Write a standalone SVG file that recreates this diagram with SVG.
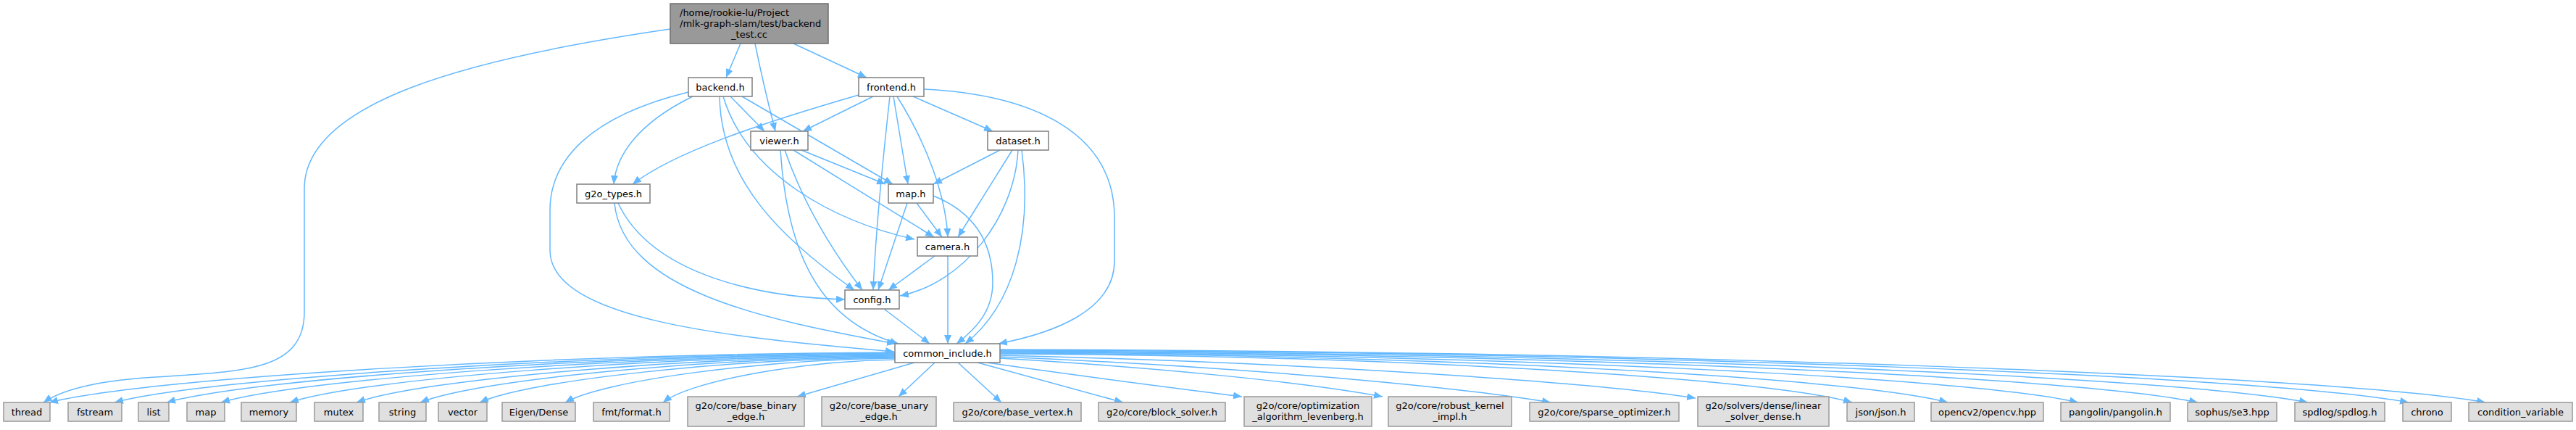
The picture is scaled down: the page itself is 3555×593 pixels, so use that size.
<svg xmlns="http://www.w3.org/2000/svg" width="3555" height="593" viewBox="0 0 3555 593">
<style>
.e{fill:none;stroke:#63b8ff;stroke-width:1.5}
.n rect{fill:#ffffff;stroke:#7f7f7f;stroke-width:1.5}
.x rect{fill:#e0e0e0;stroke:#999999;stroke-width:1.5}
.r rect{fill:#999999;stroke:#6e6e6e;stroke-width:1.5}
text{font-family:"DejaVu Sans","Liberation Sans",sans-serif;font-size:13px;text-anchor:middle;fill:#000}
text.l{text-anchor:start}
</style>
<defs>
<marker id="a" markerUnits="userSpaceOnUse" markerWidth="12" markerHeight="10" viewBox="0 0 12 10" refX="12" refY="5" orient="auto">
<path d="M0,0 L12,5 L0,10 z" fill="#63b8ff"/>
</marker>
</defs>
<rect width="3555" height="593" fill="#ffffff"/>
<g id="edges" class="edges">
<path class="e" marker-end="url(#a)" d="M1022,60 L1002,107"/>
<path class="e" marker-end="url(#a)" d="M1042,60 C1050,100 1062,150 1070,181"/>
<path class="e" marker-end="url(#a)" d="M1095,60 L1196,107"/>
<path class="e" marker-end="url(#a)" d="M925,40 C650,80 420,140 420,260 L420,430 C420,515 330,512 200,521 C120,527 82,540 60,555"/>
<path class="e" marker-end="url(#a)" d="M950,127 C815,160 759,220 759,290 L759,345 C759,440 1000,465 1234,485"/>
<path class="e" marker-end="url(#a)" d="M956,133 C880,170 850,215 847,254"/>
<path class="e" marker-end="url(#a)" d="M1008,133 L1055,181"/>
<path class="e" marker-end="url(#a)" d="M1024,133 L1232,254"/>
<path class="e" marker-end="url(#a)" d="M993,133 C995,250 1080,330 1179,400"/>
<path class="e" marker-end="url(#a)" d="M998,133 C1030,240 1150,305 1262,330"/>
<path class="e" marker-end="url(#a)" d="M1077,207 C1085,330 1120,440 1240,474"/>
<path class="e" marker-end="url(#a)" d="M1083,207 C1105,270 1140,335 1190,400"/>
<path class="e" marker-end="url(#a)" d="M1095,207 L1289,327"/>
<path class="e" marker-end="url(#a)" d="M1106,207 L1222,254"/>
<path class="e" marker-end="url(#a)" d="M1185,131 C1050,170 930,210 873,254"/>
<path class="e" marker-end="url(#a)" d="M1205,133 L1108,181"/>
<path class="e" marker-end="url(#a)" d="M1260,133 L1370,181"/>
<path class="e" marker-end="url(#a)" d="M1233,133 L1253,254"/>
<path class="e" marker-end="url(#a)" d="M1238,133 C1280,200 1305,270 1308,327"/>
<path class="e" marker-end="url(#a)" d="M1228,133 C1215,250 1208,330 1205,400"/>
<path class="e" marker-end="url(#a)" d="M1275,123 C1420,130 1538,180 1538,300 L1538,360 C1538,430 1450,460 1378,474"/>
<path class="e" marker-end="url(#a)" d="M1380,207 L1288,254"/>
<path class="e" marker-end="url(#a)" d="M1397,207 L1322,327"/>
<path class="e" marker-end="url(#a)" d="M1405,207 C1400,300 1330,390 1242,408"/>
<path class="e" marker-end="url(#a)" d="M1410,207 C1425,320 1400,420 1332,474"/>
<path class="e" marker-end="url(#a)" d="M1252,280 L1212,400"/>
<path class="e" marker-end="url(#a)" d="M1265,280 L1300,327"/>
<path class="e" marker-end="url(#a)" d="M1288,270 C1350,295 1370,340 1370,390 C1370,430 1345,455 1320,474"/>
<path class="e" marker-end="url(#a)" d="M1290,353 L1226,400"/>
<path class="e" marker-end="url(#a)" d="M1308,353 L1308,474"/>
<path class="e" marker-end="url(#a)" d="M1220,426 L1283,474"/>
<path class="e" marker-end="url(#a)" d="M853,280 C900,380 1050,410 1166,413"/>
<path class="e" marker-end="url(#a)" d="M848,280 C860,400 1050,440 1236,474"/>
<path class="e" marker-end="url(#a)" d="M1235,486 C768,488 208,520 68,555"/>
<path class="e" marker-end="url(#a)" d="M1235,487 C804,489 287,521 158,555"/>
<path class="e" marker-end="url(#a)" d="M1235,488 C833,490 351,521 230,555"/>
<path class="e" marker-end="url(#a)" d="M1235,489 C863,491 417,522 305,555"/>
<path class="e" marker-end="url(#a)" d="M1235,490 C901,492 500,522 400,555"/>
<path class="e" marker-end="url(#a)" d="M1235,491 C938,493 581,523 492,555"/>
<path class="e" marker-end="url(#a)" d="M1235,492 C973,494 659,523 580,555"/>
<path class="e" marker-end="url(#a)" d="M1235,493 C1006,495 731,524 662,555"/>
<path class="e" marker-end="url(#a)" d="M1235,494 C1053,496 835,524 780,555"/>
<path class="e" marker-end="url(#a)" d="M1235,496 C1107,498 953,525 915,555"/>
<path class="e" marker-end="url(#a)" d="M1262,500 L1100,547"/>
<path class="e" marker-end="url(#a)" d="M1290,500 L1240,547"/>
<path class="e" marker-end="url(#a)" d="M1322,500 L1382,555"/>
<path class="e" marker-end="url(#a)" d="M1349,500 L1550,555"/>
<path class="e" marker-end="url(#a)" d="M1362,500 C1500,520 1620,535 1714,547"/>
<path class="e" marker-end="url(#a)" d="M1380,494 C1600,507 1800,527 1908,547"/>
<path class="e" marker-end="url(#a)" d="M1380,492 C1700,505 2000,532 2140,555"/>
<path class="e" marker-end="url(#a)" d="M1380,490 C1800,500 2200,527 2340,549"/>
<path class="e" marker-end="url(#a)" d="M1380,488 C1909,490 2438,521 2556,555"/>
<path class="e" marker-end="url(#a)" d="M1380,487 C1969,489 2557,520 2688,555"/>
<path class="e" marker-end="url(#a)" d="M1380,486 C2050,488 2719,520 2868,555"/>
<path class="e" marker-end="url(#a)" d="M1380,485 C2124,487 2868,519 3033,555"/>
<path class="e" marker-end="url(#a)" d="M1380,484 C2192,486 3004,519 3185,555"/>
<path class="e" marker-end="url(#a)" d="M1380,483 C2255,485 3130,518 3324,555"/>
<path class="e" marker-end="url(#a)" d="M1380,482 C2302,484 3225,518 3430,555"/>
</g>
<g id="node-root" class="r"><rect x="925" y="5" width="218" height="55"/><text class="l" x="938" y="21.5">/home/rookie-lu/Project</text><text class="l" x="938" y="36.5">/mlk-graph-slam/test/backend</text><text x="1034" y="51.5">_test.cc</text></g>
<g id="node-backend" class="n"><rect x="950" y="107" width="88" height="26"/><text x="994" y="124.5">backend.h</text></g>
<g id="node-frontend" class="n"><rect x="1185" y="107" width="90" height="26"/><text x="1230" y="124.5">frontend.h</text></g>
<g id="node-viewer" class="n"><rect x="1036" y="181" width="79" height="26"/><text x="1075.5" y="198.5">viewer.h</text></g>
<g id="node-dataset" class="n"><rect x="1363" y="181" width="84" height="26"/><text x="1405" y="198.5">dataset.h</text></g>
<g id="node-g2o_types" class="n"><rect x="796" y="254" width="101" height="26"/><text x="846.5" y="271.5">g2o_types.h</text></g>
<g id="node-map" class="n"><rect x="1226" y="254" width="62" height="26"/><text x="1257" y="271.5">map.h</text></g>
<g id="node-camera" class="n"><rect x="1266" y="327" width="83" height="26"/><text x="1307.5" y="344.5">camera.h</text></g>
<g id="node-config" class="n"><rect x="1166" y="400" width="75" height="26"/><text x="1203.5" y="417.5">config.h</text></g>
<g id="node-common_include" class="n"><rect x="1235" y="474" width="145" height="26"/><text x="1307.5" y="491.5">common_include.h</text></g>
<g id="node-thread" class="x"><rect x="5" y="555" width="64" height="26"/><text x="37" y="572.5">thread</text></g>
<g id="node-fstream" class="x"><rect x="94" y="555" width="74" height="26"/><text x="131" y="572.5">fstream</text></g>
<g id="node-list" class="x"><rect x="191" y="555" width="42" height="26"/><text x="212" y="572.5">list</text></g>
<g id="node-map-std" class="x"><rect x="258" y="555" width="52" height="26"/><text x="284" y="572.5">map</text></g>
<g id="node-memory" class="x"><rect x="333" y="555" width="76" height="26"/><text x="371" y="572.5">memory</text></g>
<g id="node-mutex" class="x"><rect x="434" y="555" width="67" height="26"/><text x="467.5" y="572.5">mutex</text></g>
<g id="node-string" class="x"><rect x="523" y="555" width="65" height="26"/><text x="555.5" y="572.5">string</text></g>
<g id="node-vector" class="x"><rect x="605" y="555" width="67" height="26"/><text x="638.5" y="572.5">vector</text></g>
<g id="node-eigen" class="x"><rect x="693" y="555" width="101" height="26"/><text x="743.5" y="572.5">Eigen/Dense</text></g>
<g id="node-fmt" class="x"><rect x="819" y="555" width="105" height="26"/><text x="871.5" y="572.5">fmt/format.h</text></g>
<g id="node-base_binary_edge" class="x"><rect x="949" y="547" width="161" height="41"/><text x="1029.5" y="564">g2o/core/base_binary</text><text x="1029.5" y="579">_edge.h</text></g>
<g id="node-base_unary_edge" class="x"><rect x="1134" y="547" width="158" height="41"/><text x="1213" y="564">g2o/core/base_unary</text><text x="1213" y="579">_edge.h</text></g>
<g id="node-base_vertex" class="x"><rect x="1316" y="555" width="176" height="26"/><text x="1404" y="572.5">g2o/core/base_vertex.h</text></g>
<g id="node-block_solver" class="x"><rect x="1516" y="555" width="175" height="26"/><text x="1603.5" y="572.5">g2o/core/block_solver.h</text></g>
<g id="node-optimization" class="x"><rect x="1717" y="547" width="176" height="41"/><text x="1805" y="564">g2o/core/optimization</text><text x="1805" y="579">_algorithm_levenberg.h</text></g>
<g id="node-robust_kernel" class="x"><rect x="1916" y="547" width="170" height="41"/><text x="2001" y="564">g2o/core/robust_kernel</text><text x="2001" y="579">_impl.h</text></g>
<g id="node-sparse_optimizer" class="x"><rect x="2111" y="555" width="206" height="26"/><text x="2214" y="572.5">g2o/core/sparse_optimizer.h</text></g>
<g id="node-linear_solver_dense" class="x"><rect x="2343" y="547" width="181" height="41"/><text x="2433.5" y="564">g2o/solvers/dense/linear</text><text x="2433.5" y="579">_solver_dense.h</text></g>
<g id="node-json" class="x"><rect x="2549" y="555" width="93" height="26"/><text x="2595.5" y="572.5">json/json.h</text></g>
<g id="node-opencv" class="x"><rect x="2665" y="555" width="155" height="26"/><text x="2742.5" y="572.5">opencv2/opencv.hpp</text></g>
<g id="node-pangolin" class="x"><rect x="2844" y="555" width="151" height="26"/><text x="2919.5" y="572.5">pangolin/pangolin.h</text></g>
<g id="node-sophus" class="x"><rect x="3019" y="555" width="123" height="26"/><text x="3080.5" y="572.5">sophus/se3.hpp</text></g>
<g id="node-spdlog" class="x"><rect x="3167" y="555" width="124" height="26"/><text x="3229" y="572.5">spdlog/spdlog.h</text></g>
<g id="node-chrono" class="x"><rect x="3316" y="555" width="67" height="26"/><text x="3349.5" y="572.5">chrono</text></g>
<g id="node-condition_variable" class="x"><rect x="3407" y="555" width="143" height="26"/><text x="3478.5" y="572.5">condition_variable</text></g>
</svg>
